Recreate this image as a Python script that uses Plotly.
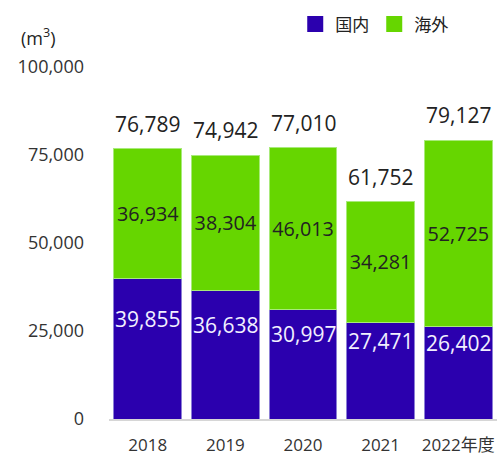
import plotly.graph_objects as go

years = ["2018", "2019", "2020", "2021", "2022年度"]
domestic = [39855, 36638, 30997, 27471, 26402]
overseas = [36934, 38304, 46013, 34281, 52725]
totals = [76789, 74942, 77010, 61752, 79127]
y_ticks = [0, 25000, 50000, 75000, 100000]
y_tick_text = ["0", "25,000", "50,000", "75,000", "100,000"]

BLUE = "#2B00AE"
GREEN = "#66D600"
FONT = "Open Sans, Noto Sans CJK JP, sans-serif"

fig = go.Figure()
fig.add_trace(go.Bar(
    x=years, y=domestic, name="国内", showlegend=False,
    marker=dict(color=BLUE, line=dict(color="#8c7fd6", width=1)),
    hoverinfo="skip",
))
fig.add_trace(go.Bar(
    x=years, y=overseas, name="海外", showlegend=False,
    marker=dict(color=GREEN, line=dict(color="#a8ea7a", width=1)),
    text=[f"{v:,}" for v in overseas], textposition="inside",
    insidetextanchor="middle", textangle=0,
    textfont=dict(color="#222222", size=21, family=FONT),
    hoverinfo="skip",
))
# legend entries
fig.add_trace(go.Scatter(x=[None], y=[None], mode="markers", name="国内",
                         marker=dict(symbol="square", size=16, color=BLUE)))
fig.add_trace(go.Scatter(x=[None], y=[None], mode="markers", name="海外",
                         marker=dict(symbol="square", size=16, color=GREEN)))

for i, d in enumerate(domestic):
    fig.add_annotation(x=i, y=d / 2, text=f"{d:,}", showarrow=False,
                       yshift=30, font=dict(color="#f2f0ff", size=21, family=FONT))
for i, t in enumerate(totals):
    fig.add_annotation(x=i, y=t, text=f"{t:,}", showarrow=False,
                       yanchor="bottom", yshift=9,
                       font=dict(color="#222222", size=21, family=FONT))

fig.add_annotation(xref="paper", yref="paper", x=-0.232, y=1.085,
                   xanchor="left", yanchor="middle", showarrow=False,
                   text="(m<sup>3</sup>)", font=dict(color="#222222", size=18, family=FONT))

fig.update_layout(
    width=497, height=459,
    margin=dict(l=109, r=0, t=67, b=40),
    barmode="stack", bargap=0.128,
    plot_bgcolor="white", paper_bgcolor="white",
    font=dict(family=FONT, color="#333333", size=17),
    showlegend=True,
    legend=dict(orientation="h", x=0.48, y=1.172, xanchor="left", yanchor="top",
                font=dict(size=17, color="#222222"), traceorder="normal",
                itemwidth=30, bgcolor="rgba(0,0,0,0)"),
    xaxis=dict(type="category", showgrid=False, showline=True, linecolor="#d6d6d6",
               linewidth=2, ticks="", ticklabelstandoff=10,
               tickfont=dict(size=17, color="#333333"),
               range=[-0.5, 4.5]),
    yaxis=dict(range=[0, 100000], showgrid=False, zeroline=False, showline=False,
               tickvals=y_ticks, ticktext=y_tick_text, ticklabelstandoff=24,
               tickfont=dict(size=18, color="#333333")),
)

fig.write_html(
    "out.html",
    config={"displayModeBar": False},
    post_script="document.body.style.margin='0';document.body.style.overflow='hidden';",
)
